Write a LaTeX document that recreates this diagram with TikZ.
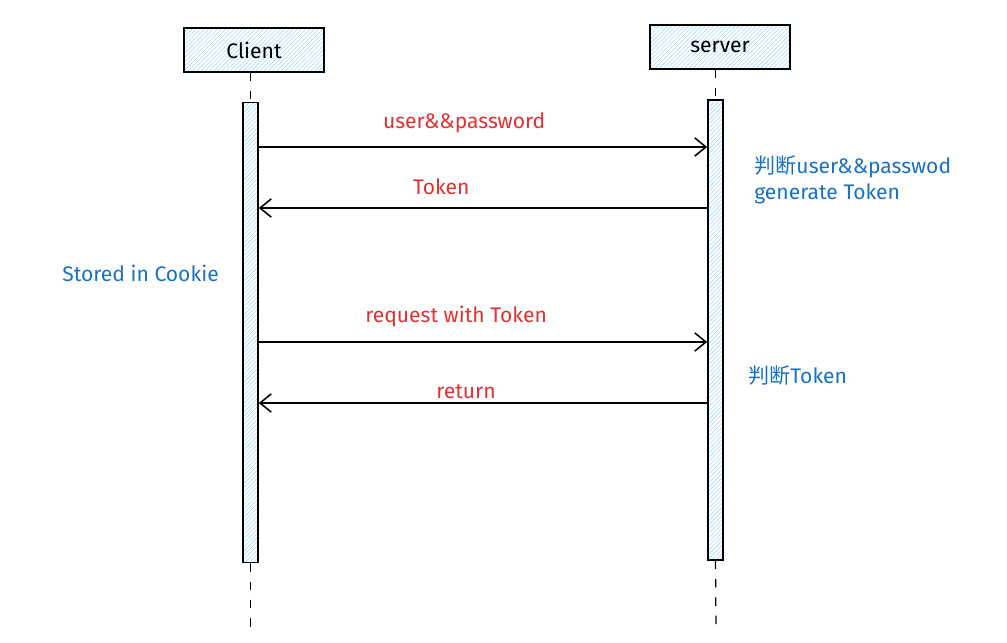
\documentclass[tikz,border=0pt]{standalone}
\usepackage{fontspec}
\setmainfont{Fira Sans}
\newfontfamily\cjk{Noto Sans CJK SC}
\usepackage{tikz}
\usetikzlibrary{patterns,arrows.meta}
\definecolor{hatch}{HTML}{A5D8FF}
\definecolor{msgred}{HTML}{E03131}
\definecolor{notblue}{HTML}{1971C2}

\begin{document}
\begin{tikzpicture}[x=0.025cm,y=-0.025cm,
  actor/.style={draw=black,line width=1pt,pattern=north east lines,pattern color=hatch,minimum width=3.5cm,minimum height=1.1cm,inner sep=0pt,font=\fontsize{15}{17}\selectfont},
  bar/.style={draw=black,line width=1pt,pattern=north east lines,pattern color=hatch,minimum width=0.38cm,minimum height=11.5cm,inner sep=0pt},
  life/.style={line width=0.9pt,dash pattern=on 6pt off 7pt},
  msg/.style={-{Straight Barb[length=8pt,width=13pt,line width=1.1pt]},line width=1.3pt},
  lab/.style={text=msgred,font=\fontsize{15}{17}\selectfont},
  note/.style={text=notblue,font=\fontsize{15}{17}\selectfont,anchor=west,inner sep=0pt}]
\useasboundingbox (0,0) rectangle (1007,643);
\node[actor] (C) at (254,50) {Client};
\node[actor] (S) at (720,47) {server};
\node[bar] (CA) at (250.5,332.5) {};
\node[bar] (SA) at (715.5,330) {};
\coordinate (CE) at (250.5,630);
\coordinate (SE) at (716,633);
\draw[life] (C.south -| CA.north) -- (CA.north);
\draw[life] (S.south -| SA.north) -- (SA.north);
\draw[life] (CA.south) -- (CE);
\draw[life] (SA.south) -- (SE);

\coordinate (a1) at (CA.east |- 0,147); \coordinate (b1) at (SA.west |- 0,147);
\coordinate (a2) at (CA.east |- 0,208); \coordinate (b2) at (SA.west |- 0,208);
\coordinate (a3) at (CA.east |- 0,342); \coordinate (b3) at (SA.west |- 0,342);
\coordinate (a4) at (CA.east |- 0,403); \coordinate (b4) at (SA.west |- 0,403);
\draw[msg] (a1) -- (b1) node (L1) [lab,pos=.458,above=6pt] {user\&\&password};
\draw[msg] (b2) -- (a2) node (L2) [lab,pos=.593,above=5.5pt] {Token};
\draw[msg] (a3) -- (b3) node (L3) [lab,pos=.44,above=7pt] {request with Token};
\draw[msg] (b4) -- (a4) node (L4) [lab,pos=.538,above=-1pt] {return};

\node[note] (N1) at (754,167) {{\cjk 判断}user\&\&passwod};
\node[note] (N2) at (754,194) {generate Token};
\node[note] (N3) at (62,273) {Stored in Cookie};
\node[note] (N4) at (748,376) {{\cjk 判断}Token};
\end{tikzpicture}
\end{document}
